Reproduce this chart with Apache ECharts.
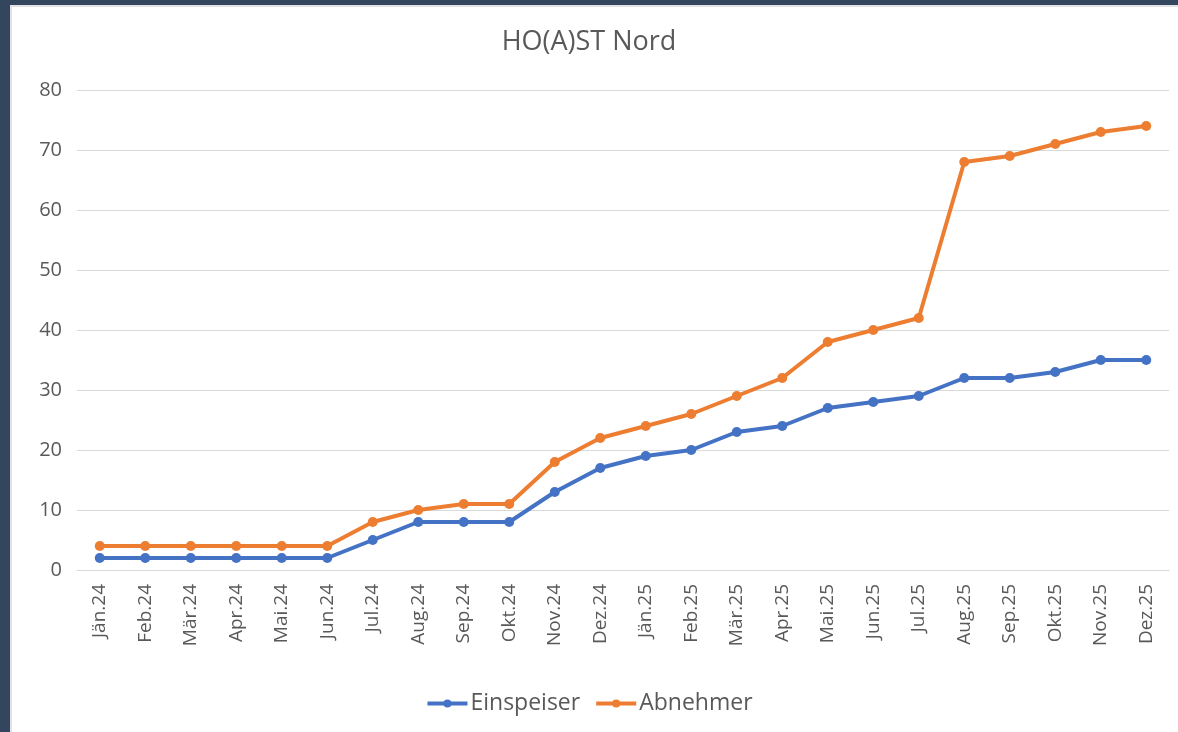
<!DOCTYPE html>
<html>
<head>
<meta charset="utf-8">
<script src="https://cdn.jsdelivr.net/npm/echarts@6/dist/echarts.min.js"></script>
<style>
  html, body { margin: 0; padding: 0; background: #fff; }
  #chart { width: 1178px; height: 732px; }
</style>
</head>
<body>
<div id="chart"></div>
<script>
// Monate (x-Achse)
const months = ['Jän.24', 'Feb.24', 'Mär.24', 'Apr.24', 'Mai.24', 'Jun.24', 'Jul.24', 'Aug.24',
  'Sep.24', 'Okt.24', 'Nov.24', 'Dez.24', 'Jän.25', 'Feb.25', 'Mär.25', 'Apr.25', 'Mai.25',
  'Jun.25', 'Jul.25', 'Aug.25', 'Sep.25', 'Okt.25', 'Nov.25', 'Dez.25']
const einspeiser = [2, 2, 2, 2, 2, 2, 5, 8, 8, 8, 13, 17, 19, 20, 23, 24, 27, 28, 29, 32, 32, 33, 35, 35]
const abnehmer = [4, 4, 4, 4, 4, 4, 8, 10, 11, 11, 18, 22, 24, 26, 29, 32, 38, 40, 42, 68, 69, 71, 73, 74]

const font = '"Open Sans", "Noto Sans", sans-serif'
const chart = echarts.init(document.getElementById('chart'))
chart.setOption({
  animation: false,
  textStyle: { fontFamily: font },
  graphic: [
    // dunkler Rahmen oben/links
    { type: 'rect', shape: { x: 0, y: 0, width: 1178, height: 5 }, style: { fill: '#33465e' } },
    { type: 'rect', shape: { x: 0, y: 0, width: 10, height: 732 }, style: { fill: '#33465e' } },
    { type: 'rect', shape: { x: 10, y: 5, width: 1168, height: 2 }, style: { fill: '#e2e2e2' } },
    { type: 'rect', shape: { x: 10, y: 5, width: 2, height: 727 }, style: { fill: '#e2e2e2' } }
  ],
  title: {
    text: 'HO(A)ST Nord',
    left: 'center',
    top: 24,
    textStyle: { fontFamily: font, fontSize: 27, fontWeight: 'normal', color: '#595959' }
  },
  legend: {
    bottom: 12,
    left: 'center',
    itemWidth: 40,
    itemHeight: 10,
    itemGap: 14,
    lineStyle: { width: 4 },
    textStyle: { fontFamily: font, fontSize: 23, color: '#595959', padding: [0, 0, 0, -2] },
    data: ['Einspeiser', 'Abnehmer']
  },
  grid: { left: 77, right: 9, top: 90, bottom: 162 },
  xAxis: {
    type: 'category',
    data: months,
    boundaryGap: true,
    axisLine: { lineStyle: { color: '#d9d9d9', width: 1 } },
    axisTick: { show: false },
    axisLabel: { rotate: 90, margin: 14, fontSize: 19, color: '#595959', fontFamily: font }
  },
  yAxis: {
    type: 'value',
    min: 0,
    max: 80,
    interval: 10,
    axisLine: { show: false },
    axisTick: { show: false },
    splitLine: { lineStyle: { color: '#d9d9d9', width: 1 } },
    axisLabel: { margin: 15, fontSize: 20, color: '#595959', fontFamily: font }
  },
  series: [
    {
      name: 'Einspeiser',
      type: 'line',
      data: einspeiser,
      color: '#4472c4',
      symbol: 'circle',
      symbolSize: 10,
      lineStyle: { width: 4 }
    },
    {
      name: 'Abnehmer',
      type: 'line',
      data: abnehmer,
      color: '#ed7d31',
      symbol: 'circle',
      symbolSize: 10,
      lineStyle: { width: 4 }
    }
  ]
})
</script>
</body>
</html>
